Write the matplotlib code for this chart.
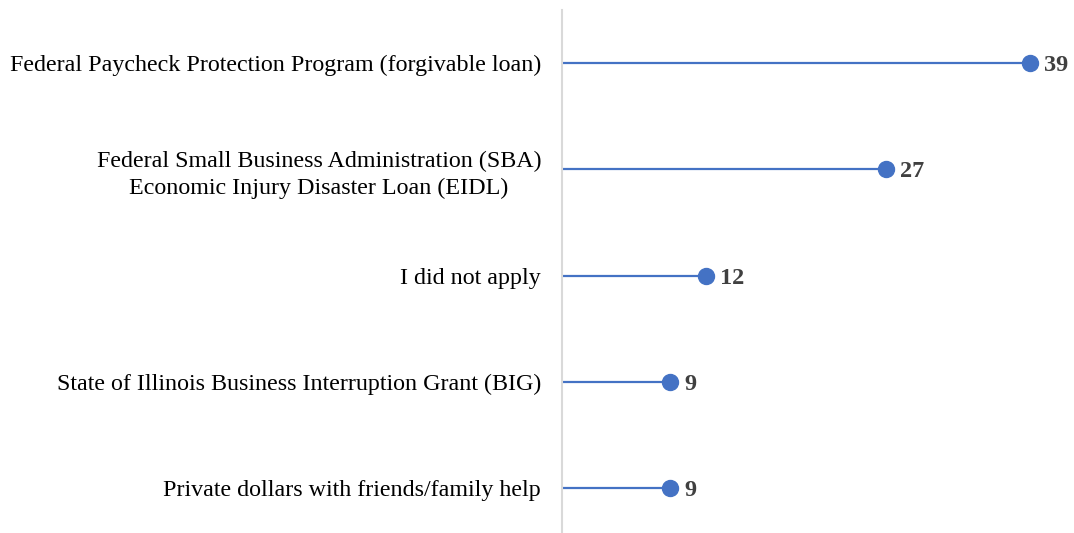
import matplotlib.pyplot as plt

categories = [
    "Federal Paycheck Protection Program (forgivable loan)",
    "Federal Small Business Administration (SBA)\nEconomic Injury Disaster Loan (EIDL)",
    "I did not apply",
    "State of Illinois Business Interruption Grant (BIG)",
    "Private dollars with friends/family help",
]
values = [39, 27, 12, 9, 9]

BLUE = "#4472C4"
GREY_TEXT = "#404040"

plt.rcParams['font.family'] = ['Liberation Serif', 'DejaVu Serif']

fig = plt.figure(figsize=(10.74, 5.33), dpi=100)
ax = fig.add_axes([562 / 1074, 0, 504 / 1074, 523 / 533])

positions = list(range(len(categories)))
ax.hlines(positions, 0, values, color=BLUE, linewidth=1.6)
ax.plot(values, positions, 'o', color=BLUE, markersize=11.5, zorder=3)

for v, p in zip(values, positions):
    ax.annotate(str(v), xy=(v, p), xytext=(10, 0), textcoords='offset points',
                ha='left', va='center_baseline', fontsize=17.5,
                fontweight='bold', color=GREY_TEXT)

ax.set_xlim(0, 42)
ax.set_ylim(4.42, -0.5)
ax.set_yticks(positions)
ax.set_yticklabels(categories, fontsize=17.3, color='black', ha='right',
                   multialignment='center', linespacing=1.35)
ax.tick_params(axis='y', length=0, pad=15)
ax.set_xticks([])

for side in ['top', 'right', 'bottom']:
    ax.spines[side].set_visible(False)
ax.spines['left'].set_color('#d9d9d9')
ax.spines['left'].set_linewidth(1.5)

plt.savefig('out.png', dpi=100)
